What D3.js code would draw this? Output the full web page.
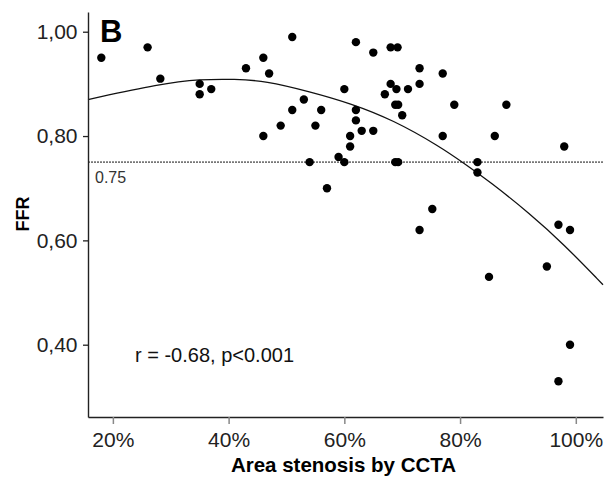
<!DOCTYPE html>
<head>
<meta charset="utf-8">
<title>FFR vs area stenosis</title>
<style>
body { margin: 0; background: #fff; }
svg { font-family: "Liberation Sans", Arial, Helvetica, sans-serif; }
.dot { fill: #000; }
</style>
</head>
<body>
<script src="https://d3js.org/d3.v7.min.js"></script>
<script>

// Data: area stenosis (%) and FFR for each lesion
var stenosis = [18, 26, 28.2, 35, 35, 37, 43, 46, 47, 46, 49, 51, 51, 53, 54, 55, 56, 57, 59, 60,
                60, 61, 61, 62, 62, 62, 63, 65, 65, 67, 68, 68, 69.2, 69, 68.8, 69.3, 68.8, 69.3, 70, 71,
                73, 73, 73, 75.2, 77, 77, 79, 83, 83, 85, 86, 88, 95, 97, 97, 98, 99, 99];
var ffr      = [0.95, 0.97, 0.91, 0.90, 0.88, 0.89, 0.93, 0.95, 0.92, 0.80, 0.82, 0.99, 0.85, 0.87, 0.75, 0.82, 0.85, 0.70, 0.76, 0.75,
                0.89, 0.80, 0.78, 0.98, 0.85, 0.83, 0.81, 0.96, 0.81, 0.88, 0.97, 0.90, 0.97, 0.89, 0.86, 0.86, 0.75, 0.75, 0.84, 0.89,
                0.93, 0.90, 0.62, 0.66, 0.92, 0.80, 0.86, 0.75, 0.73, 0.53, 0.80, 0.86, 0.55, 0.63, 0.33, 0.78, 0.62, 0.40];

// Fitted curve
var curveX = [15.7, 28.2, 35.1, 41.1, 46.3, 54.1, 61.0, 68.4, 76.5, 80.9, 85.2, 92.1, 97.8, 104.7];
var curveY = [0.870, 0.900, 0.909, 0.909, 0.906, 0.885, 0.863, 0.831, 0.780, 0.746, 0.712, 0.651, 0.594, 0.515];

var cutoff = 0.75;
var xTicks = [20, 40, 60, 80, 100];
var xTickLabels = ["20%", "40%", "60%", "80%", "100%"];
var yTicks = [0.40, 0.60, 0.80, 1.00];
var yTickLabels = ["0,40", "0,60", "0,80", "1,00"];

// Set graph margins and dimensions
var margin = {top: 12, right: 2, bottom: 60, left: 88},
    width = 605 - margin.left - margin.right,
    height = 477 - margin.top - margin.bottom;

var x = d3.scaleLinear().domain([15.7, 104.7]).range([0, width]);
var y = d3.scaleLinear().domain([0.2614, 1.0378]).range([height, 0]);

var svg = d3.select("body").append("svg")
    .attr("width", 605)
    .attr("height", 477)
  .append("g")
    .attr("transform", "translate(" + margin.left + "," + margin.top + ")");

// 0.75 cut-off line
svg.append("line")
    .attr("x1", 0).attr("x2", width)
    .attr("y1", y(cutoff)).attr("y2", y(cutoff))
    .style("stroke", "#777")
    .style("stroke-width", 1.6)
    .style("stroke-dasharray", "2,1");

svg.append("text")
    .attr("x", 7)
    .attr("y", y(cutoff) + 21)
    .style("font-size", "16px")
    .style("fill", "#333")
    .text("0.75");

// fitted curve
var line = d3.line()
    .x(function(d) { return x(d[0]); })
    .y(function(d) { return y(d[1]); })
    .curve(d3.curveBasis);

svg.append("path")
    .datum(curveX.map(function(v, i) { return [v, curveY[i]]; }))
    .attr("d", line)
    .style("fill", "none")
    .style("stroke", "#111")
    .style("stroke-width", 1.3);

// dots
svg.selectAll(".dot")
    .data(stenosis.map(function(v, i) { return [v, ffr[i]]; }))
  .enter().append("circle")
    .attr("class", "dot")
    .attr("cx", function(d) { return x(d[0]); })
    .attr("cy", function(d) { return y(d[1]); })
    .attr("r", 4.2);

// x axis
var xAxis = svg.append("g")
    .attr("transform", "translate(0," + height + ")")
    .call(d3.axisBottom(x)
        .tickValues(xTicks)
        .tickFormat(function(d, i) { return xTickLabels[i]; })
        .tickSizeInner(7)
        .tickSizeOuter(0)
        .tickPadding(8));
xAxis.select(".domain").style("stroke", "#222").style("stroke-width", 1.4);
xAxis.selectAll(".tick line").style("stroke", "#888").style("stroke-width", 1.5);
xAxis.selectAll("text")
    .style("font-size", "21px")
    .style("fill", "#222")
    .style("font-family", "\"Liberation Sans\", Arial, sans-serif");

// y axis
var yAxis = svg.append("g")
    .call(d3.axisLeft(y)
        .tickValues(yTicks)
        .tickFormat(function(d, i) { return yTickLabels[i]; })
        .tickSizeInner(5)
        .tickSizeOuter(0)
        .tickPadding(5.5));
yAxis.select(".domain").style("stroke", "#222").style("stroke-width", 1.4);
yAxis.selectAll(".tick line").style("stroke", "#222").style("stroke-width", 1.3);
yAxis.selectAll("text")
    .style("font-size", "21px")
    .style("fill", "#222")
    .style("font-family", "\"Liberation Sans\", Arial, sans-serif");

// panel letter
svg.append("text")
    .attr("x", 12)
    .attr("y", 30)
    .style("font-size", "31px")
    .style("font-weight", "bold")
    .text("B");

// correlation note
svg.append("text")
    .attr("x", 135 - margin.left)
    .attr("y", 361.5 - margin.top)
    .style("font-size", "20px")
    .style("fill", "#111")
    .text("r = -0.68, p<0.001");

// axis titles
svg.append("text")
    .attr("x", width / 2 - 2)
    .attr("y", 472 - margin.top)
    .attr("text-anchor", "middle")
    .style("font-size", "20.5px")
    .style("font-weight", "bold")
    .text("Area stenosis by CCTA");

svg.append("text")
    .attr("transform", "translate(" + (29 - margin.left) + "," + (214 - margin.top) + ")rotate(-90)")
    .attr("text-anchor", "middle")
    .style("font-size", "18px")
    .style("font-weight", "bold")
    .text("FFR");

</script>
</body>
</html>
